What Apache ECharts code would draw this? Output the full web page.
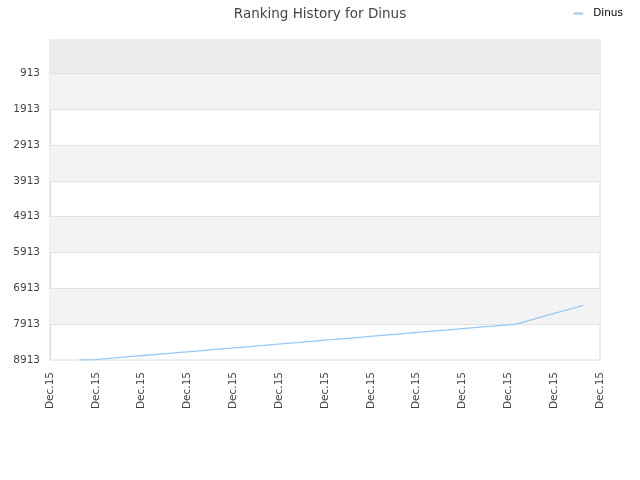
<!DOCTYPE html>
<html>
<head>
<meta charset="utf-8">
<script src="https://cdn.jsdelivr.net/npm/echarts@6/dist/echarts.min.js"></script>
<style>html,body{margin:0;padding:0;background:#fff}#c{width:640px;height:480px}</style>
</head>
<body>
<div id="c"></div>
<script>
const titleText = 'Ranking History for Dinus';
const seriesName = 'Dinus';
// x positions in hours on Dec 15
const xHours = [1.27, 2.0, 2.73, 3.47, 4.2, 4.93, 5.67, 6.4, 7.13, 7.87, 8.6, 9.33, 10.07, 10.8, 11.53, 12.27, 13.0, 13.73, 14.47, 15.2, 15.93, 16.67, 17.4, 18.13, 18.87, 19.6, 20.33, 21.07, 21.8, 22.53, 23.27];
const ranks = [8913, 8900, 8860, 8821, 8781, 8742, 8702, 8663, 8623, 8584, 8544, 8505, 8465, 8426, 8386, 8347, 8307, 8268, 8228, 8189, 8149, 8110, 8070, 8031, 7991, 7952, 7912, 7781, 7650, 7519, 7388];
const yTicks = [913, 1913, 2913, 3913, 4913, 5913, 6913, 7913, 8913];
const xLabel = 'Dec.15';
const yMin = -15, yMax = 8913;

const font = 'DejaVu Sans';
const chart = echarts.init(document.getElementById('c'), null, {renderer: 'canvas'});

const bands = [
  [yMin, 913, '#ececec'],
  [913, 1913, '#f3f3f3'],
  [2913, 3913, '#f3f3f3'],
  [4913, 5913, '#f3f3f3'],
  [6913, 7913, '#f3f3f3']
];

chart.setOption({
  animation: false,
  backgroundColor: '#fff',
  title: {
    text: titleText, left: 'center', top: 2,
    textStyle: {fontFamily: font, fontSize: 13.5, fontWeight: 'normal', color: '#444'}
  },
  legend: {
    right: 17, top: 8, padding: 0,
    icon: 'rect', itemWidth: 10, itemHeight: 2,
    textStyle: {fontFamily: font, fontSize: 10.5, color: '#000', padding: [0, 0, 0, 5]},
    data: [seriesName]
  },
  grid: {left: 50, right: 40, top: 40, bottom: 120, show: true, borderColor: '#dcdcdc', borderWidth: 1, backgroundColor: '#fff'},
  xAxis: {
    type: 'value', min: 0, max: 24, interval: 2,
    axisLine: {show: true, lineStyle: {color: '#dcdcdc'}},
    axisTick: {show: false},
    splitLine: {show: false},
    axisLabel: {rotate: 90, margin: 12, fontFamily: font, fontSize: 10.5, color: '#444', formatter: () => xLabel}
  },
  yAxis: {
    type: 'value', inverse: true, min: yMin, max: yMax,
    axisLine: {show: true, lineStyle: {color: '#dcdcdc'}},
    axisTick: {show: false},
    splitLine: {show: false},
    axisLabel: {customValues: yTicks, margin: 10, fontFamily: font, fontSize: 10.5, color: '#444', formatter: v => String(v)}
  },
  series: [{
    name: seriesName, type: 'line', symbol: 'none', showSymbol: false,
    data: xHours.map((x, i) => [x, ranks[i]]),
    lineStyle: {color: '#99c8f5', width: 1.3},
    itemStyle: {color: '#99c8f5'},
    z: 5,
    markArea: {
      silent: true,
      data: bands.map(b => [{yAxis: b[0], itemStyle: {color: b[2]}}, {yAxis: b[1]}])
    },
    markLine: {
      silent: true, symbol: 'none', animation: false,
      label: {show: false},
      lineStyle: {color: '#e2e2e2', type: 'solid', width: 1},
      data: yTicks.slice(0, -1).map(v => ({yAxis: v}))
    }
  }]
});
</script>
</body>
</html>
